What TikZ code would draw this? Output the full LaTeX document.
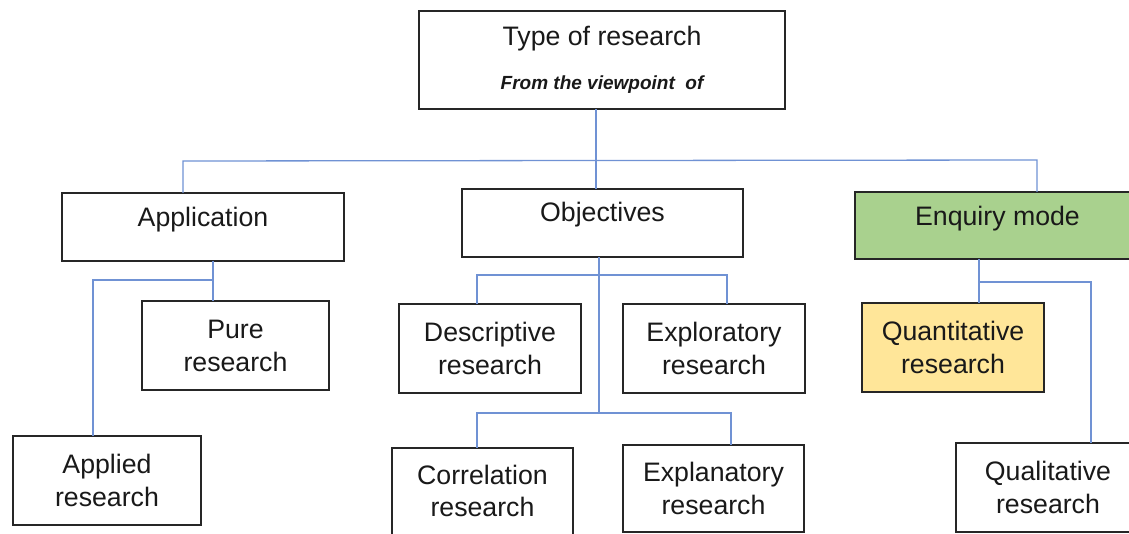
\documentclass[tikz,border=0pt]{standalone}
\usepackage{fontspec}
\setmainfont{Liberation Sans}
\definecolor{conncol}{RGB}{112,146,212}
\definecolor{greenfill}{HTML}{A9D18E}
\definecolor{yellowfill}{HTML}{FFE699}
\tikzset{
  box/.style={draw=black!85, line width=1.8pt, inner sep=0pt, outer sep=0pt, align=center,
    font=\fontsize{26.7}{33}\selectfont, text=black!90},
  conn/.style={draw=conncol, line width=1.3pt},
}
\newcommand{\up}[2]{\raisebox{#1}[\height][\depth]{#2}}
\begin{document}
\begin{tikzpicture}[x=1pt,y=-1pt]
\useasboundingbox (0,0) rectangle (1129,534);
\clip (0,0) rectangle (1129,534);
\fill[white] (0,0) rectangle (1129,534);
% nodes
\node[box, minimum width=366pt, minimum height=98pt] (top) at (602,60)
  {Type of research\\[11pt]{\fontsize{19}{22}\selectfont\bfseries\itshape From the viewpoint\ \ of}};
\node[box, minimum width=282pt, minimum height=68pt] (app) at (203,227) {\up{7pt}{Application}};
\node[box, minimum width=281pt, minimum height=68pt] (obj) at (602.5,223) {\up{8pt}{Objectives}};
\node[box, fill=greenfill, minimum width=285pt, minimum height=67pt] (enq) at (997.5,225.5) {\up{6.5pt}{Enquiry mode}};
\node[box, minimum width=187pt, minimum height=89pt] (pure) at (235.5,345.5) {Pure\\research};
\node[box, minimum width=188pt, minimum height=89pt] (applied) at (107,480.5) {Applied\\research};
\node[box, minimum width=182pt, minimum height=89pt] (desc) at (490,348.5) {Descriptive\\research};
\node[box, minimum width=182pt, minimum height=89pt] (expl) at (714,348.5) {Exploratory\\research};
\node[box, minimum width=181pt, minimum height=92pt] (corr) at (482.5,494) {\begin{tabular}{@{}c@{}}Correlation\\[-0.5pt]research\end{tabular}};
\node[box, minimum width=181pt, minimum height=87pt] (expn) at (713.5,488.5) {Explanatory\\research};
\node[box, fill=yellowfill, minimum width=182pt, minimum height=89pt] (quant) at (953,347.5) {Quantitative\\research};
\node[box, minimum width=184pt, minimum height=89pt] (qual) at (1048,487.5) {Qualitative\\research};
% junction coordinates
\coordinate (tv) at (596,161);
\coordinate (hl) at (183,161);
\coordinate (hr) at (1037,160);
\coordinate (a1) at (213,280);
\coordinate (a2) at (93,280);
\coordinate (o1) at (599,275);
\coordinate (o2) at (599,413);
\coordinate (o1l) at (477,275);
\coordinate (o1r) at (727,275);
\coordinate (o2l) at (477,413);
\coordinate (o2r) at (731,413);
\coordinate (e1) at (979,282);
\coordinate (e2) at (1091,282);
% connectors
\draw[conn] (top.south -| tv) -- (obj.north -| tv);
\draw[conn] (app.north -| hl) -- (hl) -- (hr) -- (enq.north -| hr);
\draw[conn] (app.south -| a1) -- (pure.north -| a1);
\draw[conn] (a1) -- (a2) -- (applied.north -| a2);
\draw[conn] (obj.south -| o1) -- (o2);
\draw[conn] (desc.north -| o1l) -- (o1l) -- (o1r) -- (expl.north -| o1r);
\draw[conn] (corr.north -| o2l) -- (o2l) -- (o2r) -- (expn.north -| o2r);
\draw[conn] (enq.south -| e1) -- (quant.north -| e1);
\draw[conn] (e1) -- (e2) -- (qual.north -| e2);
\end{tikzpicture}
\end{document}
